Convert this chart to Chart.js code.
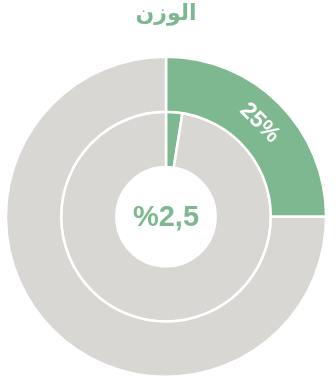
<!DOCTYPE html>
<html>
<head>
<meta charset="utf-8">
<script src="https://cdn.jsdelivr.net/npm/chart.js@4/dist/chart.umd.min.js"></script>
<style>
  html, body { margin: 0; padding: 0; background: #fff; }
  #wrap { width: 336px; height: 382px; }
</style>
</head>
<body>
<div id="wrap"><canvas id="myChart"></canvas></div>
<script>
// данные
const chartTitle = 'الوزن';
const segmentLabels = ['الوزن', 'الباقي'];
const outerValues = [25, 75];
const innerValues = [2.5, 97.5];

const green = '#7db890';
const grey = '#d8d7d3';

// подпись 25% на внешнем кольце + текст в центре
const labelsPlugin = {
  id: 'labels',
  afterDatasetsDraw(chart) {
    const ctx = chart.ctx;
    const arc = chart.getDatasetMeta(0).data[0];
    const pos = arc.tooltipPosition();
    const mid = (arc.startAngle + arc.endAngle) / 2;
    ctx.save();
    ctx.translate(pos.x, pos.y);
    ctx.rotate(mid + Math.PI / 2);
    ctx.fillStyle = '#fff';
    ctx.font = 'bold 23px "Liberation Sans", Arial, sans-serif';
    ctx.textAlign = 'center';
    ctx.textBaseline = 'middle';
    ctx.fillText(outerValues[0] + '%', 0, 0);
    ctx.restore();

    ctx.save();
    ctx.fillStyle = green;
    ctx.font = 'bold 29px "Liberation Sans", Arial, sans-serif';
    ctx.textAlign = 'center';
    ctx.textBaseline = 'middle';
    ctx.direction = 'ltr';
    ctx.fillText('%' + String(innerValues[0]).replace('.', ','), arc.x, arc.y + 1);
    ctx.restore();
  }
};

const ctx = document.getElementById('myChart').getContext('2d');
const chart = new Chart(ctx, {
  type: 'doughnut',
  data: {
    labels: segmentLabels,
    datasets: [
      { data: outerValues, backgroundColor: [green, grey], borderColor: '#fff', borderWidth: 2.5 },
      { data: innerValues, backgroundColor: [green, grey], borderColor: '#fff', borderWidth: 2.5 }
    ]
  },
  options: {
    responsive: true,
    maintainAspectRatio: false,
    animation: false,
    cutout: '31%',
    layout: { padding: { top: 0, bottom: 4, left: 0, right: 4 } },
    events: [],
    plugins: {
      legend: { display: false },
      tooltip: { enabled: false },
      title: {
        display: true,
        text: chartTitle,
        color: green,
        font: { family: '"DejaVu Sans", sans-serif', size: 22, weight: 'bold' },
        padding: { top: 1, bottom: 28 }
      }
    }
  },
  plugins: [labelsPlugin]
});
</script>
</body>
</html>
